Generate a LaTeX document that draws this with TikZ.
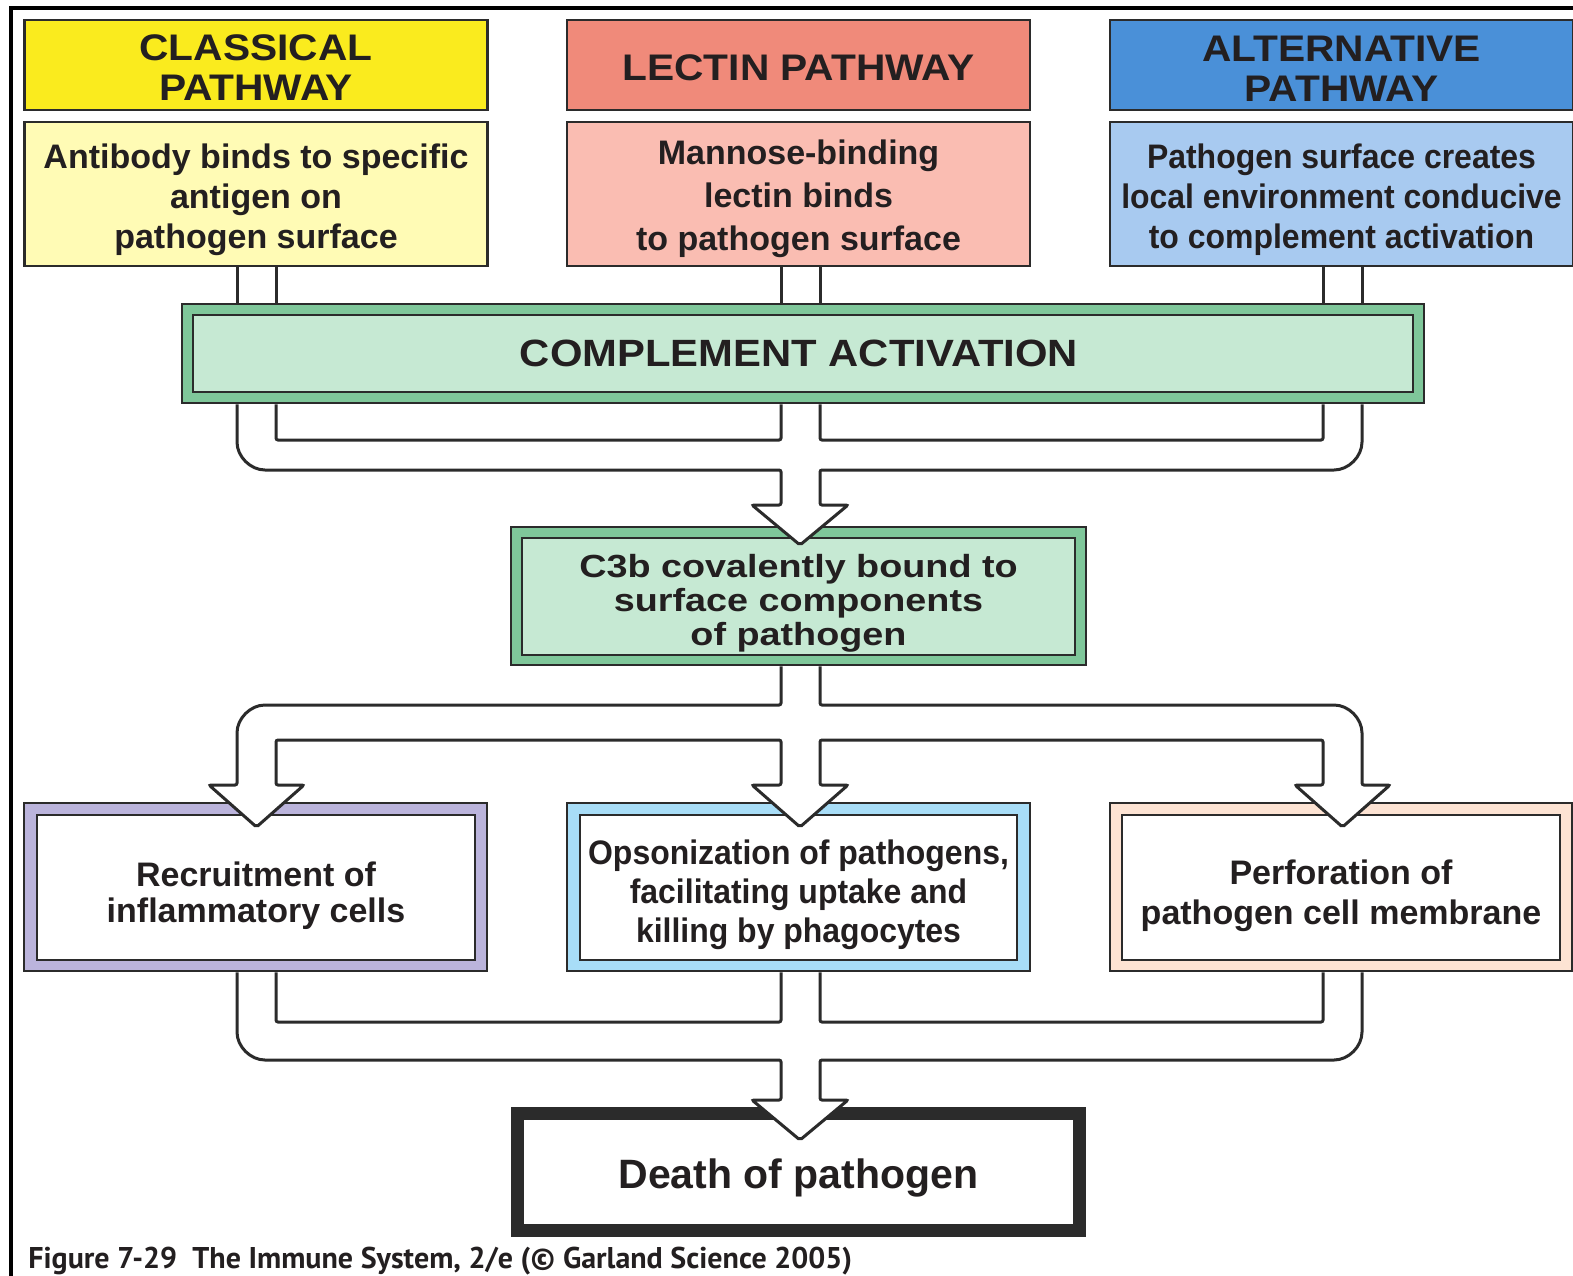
\documentclass[tikz,border=0pt]{standalone}
\usepackage{fontspec}
\setmainfont{Liberation Sans}
\newfontfamily\hfont{Liberation Sans}[FakeStretch=1.1]
\newfontfamily\cfont{Liberation Sans}[FakeStretch=0.94]
\newfontfamily\wfont{Liberation Sans}[FakeStretch=1.18]
\newfontfamily\capfont{PT Sans}
\newcommand\dnstrut[1]{\rule{0pt}{#1}}
\definecolor{linec}{HTML}{2B2B2B}
\definecolor{txt}{HTML}{231F20}
\definecolor{yel}{HTML}{FAEB1E}
\definecolor{yell}{HTML}{FFFBB5}
\definecolor{sal}{HTML}{F08A7A}
\definecolor{sall}{HTML}{FABDB2}
\definecolor{blu}{HTML}{4A90D8}
\definecolor{blul}{HTML}{A8CAF0}
\definecolor{grn}{HTML}{7FC79A}
\definecolor{grnl}{HTML}{C6E9D3}
\definecolor{lav}{HTML}{BBB4DC}
\definecolor{sky}{HTML}{A8DDF7}
\definecolor{peach}{HTML}{FDE3D3}
\begin{document}
\begin{tikzpicture}[x=0.5pt,y=-0.5pt,
  box/.style={draw=linec, line width=1.25pt, inner sep=0pt, text=txt, align=center},
  headfont/.style={font=\hfont\bfseries\fontsize{18.5}{20}\selectfont},
  bodyfont/.style={font=\bfseries\fontsize{17}{20}\selectfont},
  condfont/.style={font=\cfont\bfseries\fontsize{17}{20}\selectfont},
  pipe/.style={draw=linec, line width=1.5pt, line join=miter, rounded corners=1pt},
  tipfill/.style={fill=white}]
\useasboundingbox (0,0) rectangle (1573,1275);
\clip (0,0) rectangle (1573,1275);
\fill[white] (0,0) rectangle (1573,1275);
% frame
\draw[line width=2pt, black] (10.5,1280) -- (10.5,7.5) -- (1580,7.5);
% column coordinates
\coordinate (xa) at (237,0);
\coordinate (xb) at (276,0);
\coordinate (xc) at (781,0);
\coordinate (xd) at (820,0);
\coordinate (xe) at (1323,0);
\coordinate (xf) at (1362,0);
% headers
\node[box, fill=yel, headfont, minimum width=231.5pt, minimum height=45pt] (ch) at (256,65) {\dnstrut{15.5pt}CLASSICAL\\PATHWAY};
\node[box, fill=sal, headfont, minimum width=231.5pt, minimum height=45pt] (lh) at (798.5,65) {\dnstrut{15.5pt}LECTIN PATHWAY};
\node[box, fill=blu, headfont, minimum width=231.5pt, minimum height=45pt] (ah) at (1341.5,65) {\dnstrut{16pt}ALTERNATIVE\\PATHWAY};
% descriptions
\node[box, fill=yell, bodyfont, minimum width=231.5pt, minimum height=72pt] (cd) at (256,194) {\dnstrut{18.5pt}Antibody binds to specific\\antigen on\\pathogen surface};
\node[box, fill=sall, font=\bfseries\fontsize{17}{21.5}\selectfont, minimum width=231.5pt, minimum height=72pt] (ld) at (798.5,194) {\dnstrut{17.5pt}Mannose-binding\\lectin binds\\to pathogen surface};
\node[box, fill=blul, condfont, minimum width=231.5pt, minimum height=72pt] (ad) at (1341.5,194) {\dnstrut{18.5pt}Pathogen surface creates\\local environment conducive\\to complement activation};
% complement activation
\node[box, fill=grn, minimum width=621pt, minimum height=49.5pt] (compO) at (803,353.5) {};
\node[box, fill=grnl, font=\hfont\bfseries\fontsize{19}{20}\selectfont, minimum width=610pt, minimum height=38.5pt] (comp) at (803,353.5) {\hspace*{-4pt}COMPLEMENT ACTIVATION};
% C3b
\node[box, fill=grn, minimum width=287.5pt, minimum height=69pt] (c3bO) at (798.5,596) {};
\node[box, fill=grnl, font=\wfont\bfseries\fontsize{16}{17}\selectfont, minimum width=276.5pt, minimum height=58.5pt] (c3b) at (798.5,596.5) {\dnstrut{18.5pt}C3b covalently bound to\\surface components\\of pathogen};
% outcomes
\node[box, fill=lav, minimum width=231.5pt, minimum height=84pt] (recO) at (255.5,887) {};
\node[box, fill=white, font=\bfseries\fontsize{17}{18}\selectfont, minimum width=219pt, minimum height=72.5pt] (rec) at (256,887.5) {\dnstrut{20.4pt}Recruitment of\\inflammatory cells};
\node[box, fill=sky, minimum width=231.5pt, minimum height=84pt] (opsO) at (798.5,887) {};
\node[box, fill=white, font=\cfont\bfseries\fontsize{17}{19.5}\selectfont, minimum width=218.5pt, minimum height=72.5pt] (ops) at (798.5,887.5) {\dnstrut{19.4pt}Opsonization of pathogens,\\facilitating uptake and\\killing by phagocytes};
\node[box, fill=peach, minimum width=231pt, minimum height=84pt] (perO) at (1341,887) {};
\node[box, fill=white, font=\bfseries\fontsize{17}{20}\selectfont, minimum width=219pt, minimum height=72.5pt] (per) at (1341,887.5) {\dnstrut{20.4pt}Perforation of\\pathogen cell membrane};
% death
\node[draw=linec, line width=6.5pt, fill=white, text=txt, inner sep=0pt, font=\bfseries\fontsize{20.5}{22}\selectfont, minimum width=281pt, minimum height=58.5pt] (death) at (798.5,1172) {\dnstrut{21pt}Death of pathogen};
% pipes: descriptions to complement activation
\foreach \c in {xa,xb} \draw[pipe] (cd.south -| \c) -- (compO.north -| \c);
\foreach \c in {xc,xd} \draw[pipe] (ld.south -| \c) -- (compO.north -| \c);
\foreach \c in {xe,xf} \draw[pipe] (ad.south -| \c) -- (compO.north -| \c);
% merge to C3b
\fill[tipfill] (752,505) -- (800,545) -- (848,505) -- cycle;
\draw[pipe] (compO.south -| xa) -- (237,440) .. controls (237,456.6) and (250.4,470) .. (267,470)
  -- (781,470) -- (781,505) -- (752,505) -- (800,545) -- (848,505) -- (820,505) -- (820,470)
  -- (1332,470) .. controls (1348.6,470) and (1362,456.6) .. (1362,440) -- (compO.south -| xf);
\draw[pipe] (compO.south -| xb) -- (276,440) -- (781,440) -- (compO.south -| xc);
\draw[pipe] (compO.south -| xd) -- (820,440) -- (1323,440) -- (compO.south -| xe);
% split from C3b
\fill[tipfill] (209,785) -- (256.5,827) -- (304,785) -- cycle;
\fill[tipfill] (752,785) -- (800,827) -- (848,785) -- cycle;
\fill[tipfill] (1295,785) -- (1342.5,827) -- (1390,785) -- cycle;
\draw[pipe] (c3bO.south -| xc) -- (781,705) -- (267,705) .. controls (250.4,705) and (237,718.4) .. (237,735)
  -- (237,785) -- (209,785) -- (256.5,827) -- (304,785) -- (276,785) -- (276,740)
  -- (781,740) -- (781,785) -- (752,785) -- (800,827) -- (848,785) -- (820,785) -- (820,740)
  -- (1323,740) -- (1323,785) -- (1295,785) -- (1342.5,827) -- (1390,785) -- (1362,785)
  -- (1362,735) .. controls (1362,718.4) and (1348.6,705) .. (1332,705) -- (820,705) -- (c3bO.south -| xd);
% merge to death
\fill[tipfill] (752,1100) -- (800,1140) -- (848,1100) -- cycle;
\draw[pipe] (recO.south -| xa) -- (237,1030) .. controls (237,1046.6) and (250.4,1060) .. (267,1060)
  -- (781,1060) -- (781,1100) -- (752,1100) -- (800,1140) -- (848,1100) -- (820,1100) -- (820,1060)
  -- (1332,1060) .. controls (1348.6,1060) and (1362,1046.6) .. (1362,1030) -- (perO.south -| xf);
\draw[pipe] (recO.south -| xb) -- (276,1022) -- (781,1022) -- (opsO.south -| xc);
\draw[pipe] (opsO.south -| xd) -- (820,1022) -- (1323,1022) -- (perO.south -| xe);
% caption
\node[anchor=base west, inner sep=0pt, text=txt, font=\capfont\bfseries\fontsize{15}{17}\selectfont] (cap) at (28,1268) {Figure 7-29\ \ The Immune System, 2/e (© Garland Science 2005)};
\end{tikzpicture}
\end{document}
